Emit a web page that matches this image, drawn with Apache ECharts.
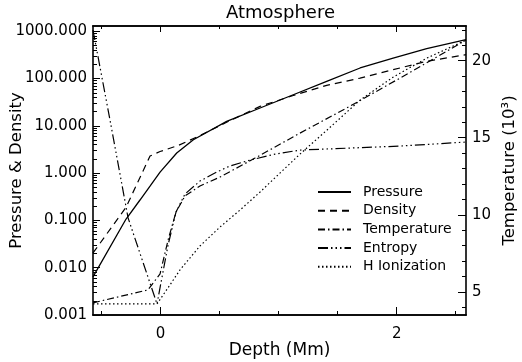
<!DOCTYPE html>
<html>
<head>
<meta charset="utf-8">
<script src="https://cdn.jsdelivr.net/npm/echarts@6/dist/echarts.min.js"></script>
<style>
html,body{margin:0;padding:0;background:#fff;}
#chart{width:522px;height:362px;}
</style>
</head>
<body>
<div id="chart"></div>
<script>
// ---- data (depth in Mm) ----
const seriesNames = ['Pressure', 'Density', 'Temperature', 'Entropy', 'H Ionization'];

const pressure = [
  [-0.572, 0.0064], [-0.292, 0.107], [-0.174, 0.27], [-0.089, 0.53], [-0.004, 1.05],
  [0.137, 2.66], [0.278, 5.08], [0.56, 12.4], [0.843, 23.8], [1.124, 45.4],
  [1.407, 87.3], [1.69, 167], [1.97, 271], [2.254, 427], [2.587, 668]
];
const density = [
  [-0.572, 0.0205], [-0.292, 0.19], [-0.089, 2.3], [-0.004, 2.86], [0.148, 3.83],
  [0.309, 5.8], [0.56, 11.9], [0.843, 25.8], [1.124, 43.7], [1.407, 71.8],
  [1.69, 102], [1.97, 154], [2.254, 231], [2.587, 319]
];
const temperature = [
  [-0.572, 4.29], [-0.106, 5.13], [-0.004, 6.17], [0.064, 8.37], [0.131, 10.18],
  [0.207, 11.22], [0.334, 11.87], [0.504, 12.45], [0.80, 13.68], [1.181, 15.30],
  [1.605, 17.05], [2.028, 18.87], [2.587, 21.33]
];
const entropy = [
  [-0.572, 21.98], [-0.428, 16.15], [-0.275, 9.80], [-0.030, 4.22], [0.064, 8.05],
  [0.131, 10.18], [0.207, 11.35], [0.334, 12.19], [0.478, 12.78], [0.589, 13.17],
  [0.758, 13.55], [0.97, 13.94], [1.181, 14.20], [1.605, 14.33], [2.028, 14.46],
  [2.307, 14.59], [2.587, 14.72]
];
const hIonization = [
  [-0.572, 4.22], [-0.030, 4.22], [0.08, 5.45], [0.165, 6.43], [0.334, 7.98],
  [0.504, 9.21], [0.673, 10.31], [0.843, 11.48], [1.181, 13.94], [1.41, 15.5],
  [1.689, 17.44], [1.969, 18.93], [2.256, 20.17], [2.587, 21.33]
];

// ---- axis ticks ----
const depthTicksMajor = [0, 2];
const depthTicksMinor = [-0.5, 0.5, 1, 1.5, 2.5];
const pdTicks = [0.001, 0.01, 0.1, 1, 10, 100, 1000];
const pdMinorMult = [2, 3, 4, 5, 6, 7, 8, 9];
const tempTicks = [5, 10, 15, 20];
const tempMinorTicks = [4, 6, 7, 8, 9, 11, 12, 13, 14, 16, 17, 18, 19, 21, 22];

const pdMinorTicks = [];
pdTicks.forEach(d => pdMinorMult.forEach(m => pdMinorTicks.push(+(d * m).toPrecision(3))));

const FONT = 'DejaVu Sans';
const BLACK = '#000';
const xMin = -0.572, xMax = 2.587;
const yMin = 0.001, yMax = 1290;
const tMin = 3.5, tMax = 22.25;

function xAx(pos, ticks, len, labels, name) {
  return {
    type: 'value', position: pos, min: xMin, max: xMax,
    name: name || '', nameLocation: 'middle', nameGap: 27, nameMoveOverlap: false,
    nameTextStyle: { fontFamily: FONT, fontSize: 17, color: BLACK },
    axisLine: { show: true, onZero: false, lineStyle: { color: BLACK, width: 1.6 } },
    axisTick: { show: true, inside: true, length: len, customValues: ticks, lineStyle: { color: BLACK, width: 1 } },
    axisLabel: labels ? { show: true, customValues: labels, margin: 12, fontFamily: FONT, fontSize: 15, color: BLACK } : { show: false },
    splitLine: { show: false }
  };
}

const option = {
  animation: false,
  backgroundColor: '#fff',
  title: {
    text: 'Atmosphere', left: 226, top: 4, padding: 0,
    textStyle: { fontFamily: FONT, fontSize: 18, fontWeight: 'normal', color: BLACK }
  },
  legend: {
    orient: 'vertical', left: 317, top: 185, padding: 0,
    itemWidth: 33, itemHeight: 14, itemGap: 4.7,
    data: seriesNames,
    itemStyle: { color: 'transparent', borderWidth: 0, opacity: 0 },
    textStyle: { fontFamily: FONT, fontSize: 14, color: BLACK, padding: [0, 0, 0, 7] }
  },
  grid: { left: 93, right: 56, top: 26, bottom: 47, containLabel: false, outerBoundsMode: 'none' },
  xAxis: [
    xAx('bottom', depthTicksMajor, 8, depthTicksMajor, 'Depth (Mm)'),
    xAx('bottom', depthTicksMinor, 4, null),
    xAx('top', depthTicksMajor, 6, null),
    xAx('top', depthTicksMinor, 3, null)
  ],
  yAxis: [
    {
      type: 'log', logBase: 10, position: 'left', min: yMin, max: yMax,
      name: 'Pressure & Density', nameLocation: 'middle', nameGap: 68, nameRotate: 90, nameMoveOverlap: false,
      nameTextStyle: { fontFamily: FONT, fontSize: 16.5, color: BLACK },
      axisLine: { show: true, onZero: false, lineStyle: { color: BLACK, width: 1.6 } },
      axisTick: { show: true, inside: true, length: 7, customValues: pdTicks, lineStyle: { color: BLACK } },
      axisLabel: { show: true, customValues: pdTicks, margin: 6, fontFamily: FONT, fontSize: 15, color: BLACK,
        formatter: v => Number(v).toFixed(3) },
      splitLine: { show: false }
    },
    {
      type: 'log', logBase: 10, position: 'left', min: yMin, max: yMax,
      axisLine: { show: false, onZero: false },
      axisTick: { show: true, inside: true, length: 4, customValues: pdMinorTicks, lineStyle: { color: BLACK } },
      axisLabel: { show: false },
      splitLine: { show: false }
    },
    {
      type: 'value', position: 'right', min: tMin, max: tMax,
      name: 'Temperature (10³)', nameLocation: 'middle', nameGap: 35, nameRotate: 90, nameMoveOverlap: false,
      nameTextStyle: { fontFamily: FONT, fontSize: 16.5, color: BLACK },
      axisLine: { show: true, onZero: false, lineStyle: { color: BLACK, width: 1.6 } },
      axisTick: { show: true, inside: true, length: 8, customValues: tempTicks, lineStyle: { color: BLACK } },
      axisLabel: { show: true, customValues: tempTicks, margin: 6, fontFamily: FONT, fontSize: 15, color: BLACK },
      splitLine: { show: false }
    },
    {
      type: 'value', position: 'right', min: tMin, max: tMax,
      axisLine: { show: false, onZero: false },
      axisTick: { show: true, inside: true, length: 4, customValues: tempMinorTicks, lineStyle: { color: BLACK } },
      axisLabel: { show: false },
      splitLine: { show: false }
    }
  ],
  series: [
    { name: 'Pressure', type: 'line', data: pressure, yAxisIndex: 0, symbol: 'none',
      lineStyle: { color: BLACK, width: 1.3, type: 'solid' }, itemStyle: { color: BLACK } },
    { name: 'Density', type: 'line', data: density, yAxisIndex: 0, symbol: 'none',
      lineStyle: { color: BLACK, width: 1.2, type: [7, 5] }, itemStyle: { color: BLACK } },
    { name: 'Temperature', type: 'line', data: temperature, yAxisIndex: 2, symbol: 'none',
      lineStyle: { color: BLACK, width: 1.2, type: [7, 3, 1.5, 3] }, itemStyle: { color: BLACK } },
    { name: 'Entropy', type: 'line', data: entropy, yAxisIndex: 2, symbol: 'none',
      lineStyle: { color: BLACK, width: 1.2, type: [10, 3, 1.5, 3, 1.5, 3, 1.5, 3] }, itemStyle: { color: BLACK } },
    { name: 'H Ionization', type: 'line', data: hIonization, yAxisIndex: 2, symbol: 'none',
      lineStyle: { color: BLACK, width: 1.2, type: [1.5, 2.5] }, itemStyle: { color: BLACK } }
  ]
};

const chart = echarts.init(document.getElementById('chart'), null, { renderer: 'canvas' });
chart.setOption(option);
</script>
</body>
</html>
